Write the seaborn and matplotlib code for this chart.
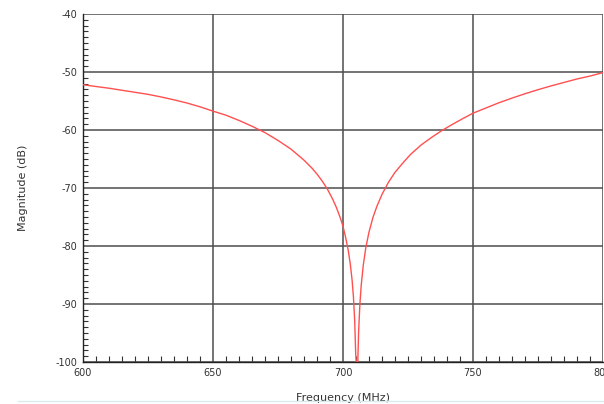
import pandas as pd
import matplotlib
matplotlib.use("Agg")
import matplotlib.pyplot as plt
from matplotlib.ticker import MultipleLocator
import seaborn as sns

# Notch response (frequency in MHz, magnitude in dB)
freq_mhz = [600, 605, 610, 615, 620, 625, 630, 635, 640, 645, 650, 655, 660,
            665, 670, 675, 680, 685, 688, 690, 692, 694, 696, 697.5, 699, 700,
            701, 702, 702.8, 703.5, 704.0, 704.5, 704.9, 705.3, 705.7, 706.0,
            706.5, 707.0, 707.8, 708.8, 710, 711.5, 713, 715, 717.5, 720, 723,
            726, 730, 734, 738, 742, 746, 750, 755, 760, 765, 770, 775, 780,
            785, 790, 795, 800]
magnitude_db = [-52.2, -52.5, -52.8, -53.15, -53.5, -53.85, -54.3, -54.8,
                -55.35, -56.0, -56.75, -57.45, -58.35, -59.35, -60.45, -61.8,
                -63.3, -65.2, -66.55, -67.6, -68.8, -70.2, -71.9, -73.4, -75.2,
                -76.6, -78.5, -80.7, -83.1, -85.9, -88.7, -92.9, -98.8, -101.0,
                -99.9, -94.8, -90.0, -86.8, -83.3, -80.2, -77.6, -75.1, -73.2,
                -71.1, -69.0, -67.3, -65.7, -64.2, -62.6, -61.3, -60.1, -59.05,
                -58.05, -57.1, -56.2, -55.3, -54.5, -53.75, -53.05, -52.4,
                -51.8, -51.2, -50.7, -50.1]

df = pd.DataFrame({"Frequency (MHz)": freq_mhz, "Magnitude (dB)": magnitude_db})

sns.set_style("white")
plt.rcParams["font.family"] = ["DejaVu Sans"]
plt.rcParams["axes.unicode_minus"] = False

fig = plt.figure(figsize=(6.04, 4.04), dpi=100)
ax = fig.add_axes([83 / 604, 1 - 362 / 404, 520 / 604, 348 / 404])

sns.lineplot(data=df, x="Frequency (MHz)", y="Magnitude (dB)", ax=ax,
             color="#ff5050", linewidth=1.0, zorder=3)

ax.set_xlim(600, 800)
ax.set_ylim(-100, -40)

ax.xaxis.set_major_locator(MultipleLocator(50))
ax.xaxis.set_minor_locator(MultipleLocator(5))
ax.yaxis.set_major_locator(MultipleLocator(10))
ax.yaxis.set_minor_locator(MultipleLocator(1))

ax.grid(which="major", color="#4d4d4d", linewidth=1.1)
ax.set_axisbelow(True)

ax.tick_params(axis="both", which="both", direction="in", colors="#333333",
               labelsize=7, width=0.8, bottom=True, left=True)
ax.tick_params(axis="both", which="major", length=0, pad=4)
ax.tick_params(axis="x", which="minor", length=4)
ax.tick_params(axis="y", which="minor", length=3.5)

for side in ["top", "right"]:
    ax.spines[side].set_visible(False)
for side in ["left", "bottom"]:
    ax.spines[side].set_color("#222222")
    ax.spines[side].set_linewidth(1.0)

ax.set_xlabel("Frequency (MHz)", fontsize=8, color="#333333", labelpad=11)
ax.set_ylabel("Magnitude (dB)", fontsize=8, color="#333333", labelpad=20)

fig.add_artist(plt.Line2D([0.03, 1.0], [1 - 401 / 404, 1 - 401 / 404],
                          transform=fig.transFigure, color="#d8ecee", linewidth=1))

fig.savefig("out.png", dpi=100)
